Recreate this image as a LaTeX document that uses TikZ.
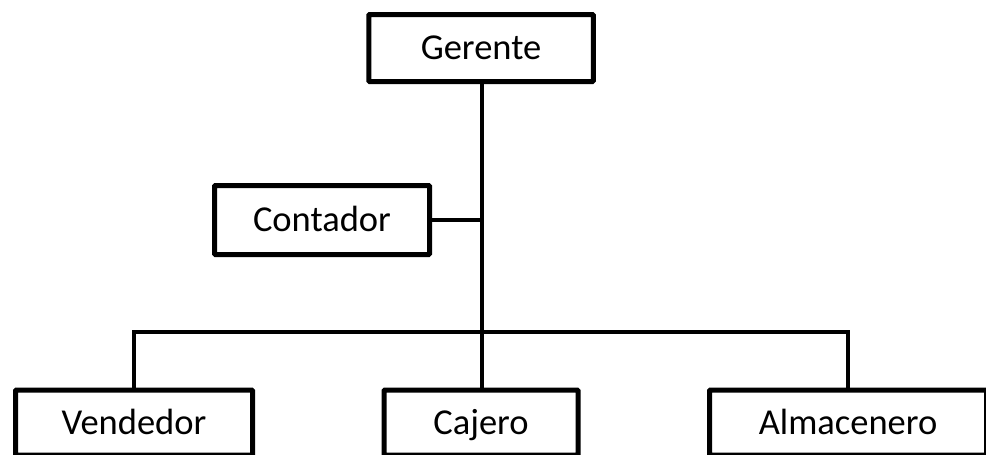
\documentclass[tikz,border=0pt]{standalone}
\usepackage{fontspec}
\setmainfont{Carlito}
\begin{document}
\begin{tikzpicture}[x=1pt,y=-1pt,
  box/.style={draw=black, line width=5pt, rounded corners=1pt, inner sep=0pt,
    font=\fontsize{36.5}{40}\selectfont, text=black, fill=white,
    text height=23pt, text depth=0pt},
  conn/.style={draw=black, line width=4.4pt}]
\useasboundingbox (0,0) rectangle (986,455);
\clip (0,0) rectangle (986,455);
\node[box, minimum width=224.5pt, minimum height=67pt] (ger) at (481,48) {Gerente};
\node[box, minimum width=215pt, minimum height=69pt] (con) at (322,220) {Contador};
\node[box, minimum width=237pt, minimum height=65pt] (ven) at (134,422.5) {Vendedor};
\node[box, minimum width=194pt, minimum height=65pt] (caj) at (481,422.5) {Cajero};
\node[box, minimum width=277pt, minimum height=65pt] (alm) at (848,422.5) {Almacenero};
\coordinate (bar) at (482,332);
\draw[conn] (ger.south -| bar) -- (caj.north -| bar);
\draw[conn] (con.east) -- (con.east -| bar);
\draw[conn] (ven.north) |- (bar) -| (alm.north);
\end{tikzpicture}
\end{document}
